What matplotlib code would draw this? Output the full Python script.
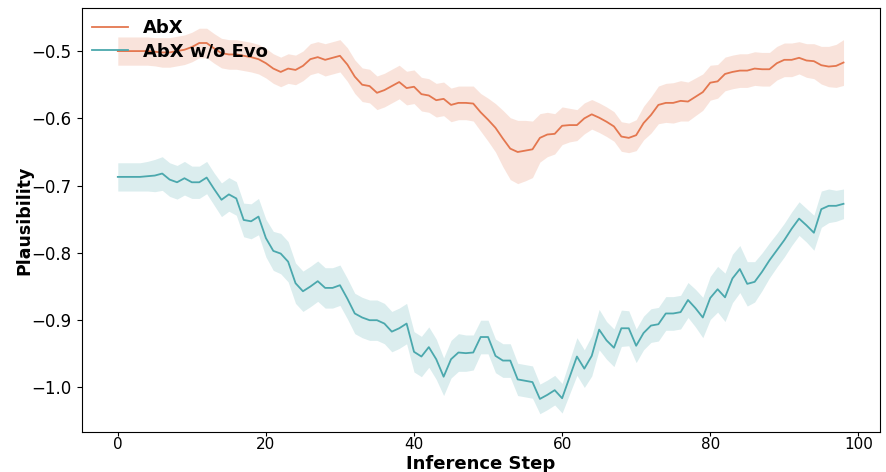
import numpy as np
import matplotlib
matplotlib.use("Agg")
import matplotlib.pyplot as plt

# Inference steps 0..98
steps = np.arange(99)

# AbX mean plausibility
abx_mean = [
    -0.500, -0.500, -0.500, -0.500, -0.500, -0.501, -0.502, -0.502, -0.500, -0.498,
    -0.494, -0.488, -0.488, -0.496, -0.503, -0.505, -0.505, -0.507, -0.509, -0.512,
    -0.518, -0.526, -0.531, -0.526, -0.528, -0.522, -0.512, -0.509, -0.513, -0.510,
    -0.507, -0.520, -0.538, -0.550, -0.552, -0.562, -0.558, -0.552, -0.546, -0.555,
    -0.553, -0.564, -0.566, -0.573, -0.571, -0.580, -0.577, -0.577, -0.578, -0.591,
    -0.602, -0.614, -0.630, -0.645, -0.650, -0.648, -0.646, -0.629, -0.624, -0.623,
    -0.611, -0.610, -0.610, -0.600, -0.594, -0.599, -0.605, -0.612, -0.627, -0.629,
    -0.625, -0.607, -0.595, -0.580, -0.577, -0.577, -0.574, -0.575, -0.568, -0.561,
    -0.547, -0.545, -0.534, -0.531, -0.529, -0.529, -0.526, -0.527, -0.527, -0.518,
    -0.513, -0.513, -0.510, -0.514, -0.515, -0.521, -0.523, -0.522, -0.517,
]
# AbX band half-width
abx_std = [
    0.021, 0.021, 0.021, 0.021, 0.021, 0.021, 0.022, 0.022, 0.022, 0.022,
    0.022, 0.022, 0.022, 0.022, 0.022, 0.022, 0.022, 0.022, 0.022, 0.022,
    0.022, 0.022, 0.022, 0.022, 0.022, 0.022, 0.023, 0.023, 0.024, 0.024,
    0.024, 0.025, 0.025, 0.025, 0.025, 0.025, 0.025, 0.025, 0.025, 0.025,
    0.025, 0.025, 0.025, 0.025, 0.025, 0.025, 0.025, 0.025, 0.026, 0.028,
    0.032, 0.036, 0.042, 0.046, 0.047, 0.045, 0.042, 0.036, 0.033, 0.030,
    0.028, 0.025, 0.023, 0.023, 0.022, 0.022, 0.022, 0.022, 0.022, 0.022,
    0.023, 0.025, 0.027, 0.028, 0.029, 0.030, 0.030, 0.029, 0.028, 0.027,
    0.026, 0.025, 0.025, 0.025, 0.025, 0.025, 0.025, 0.025, 0.025, 0.025,
    0.025, 0.025, 0.024, 0.025, 0.026, 0.028, 0.030, 0.032, 0.034,
]

# AbX w/o Evo mean plausibility
noevo_mean = [
    -0.687, -0.687, -0.687, -0.687, -0.686, -0.685, -0.682, -0.691, -0.695, -0.689,
    -0.695, -0.695, -0.688, -0.705, -0.721, -0.713, -0.719, -0.751, -0.753, -0.746,
    -0.778, -0.797, -0.801, -0.813, -0.845, -0.857, -0.850, -0.842, -0.852, -0.852,
    -0.848, -0.868, -0.890, -0.896, -0.900, -0.900, -0.905, -0.917, -0.912, -0.905,
    -0.947, -0.954, -0.940, -0.958, -0.984, -0.958, -0.948, -0.949, -0.948, -0.925,
    -0.925, -0.953, -0.960, -0.960, -0.988, -0.990, -0.992, -1.017, -1.011, -1.004,
    -1.016, -0.985, -0.954, -0.972, -0.953, -0.914, -0.930, -0.941, -0.912, -0.912,
    -0.938, -0.919, -0.908, -0.906, -0.890, -0.890, -0.888, -0.870, -0.882, -0.896,
    -0.867, -0.854, -0.866, -0.838, -0.824, -0.846, -0.843, -0.828, -0.811, -0.796,
    -0.781, -0.764, -0.749, -0.759, -0.770, -0.735, -0.730, -0.730, -0.727,
]
# AbX w/o Evo band half-width
noevo_std = [
    0.021, 0.021, 0.021, 0.021, 0.022, 0.024, 0.025, 0.025, 0.025, 0.025,
    0.024, 0.024, 0.024, 0.024, 0.025, 0.025, 0.025, 0.025, 0.026, 0.027,
    0.028, 0.029, 0.030, 0.030, 0.030, 0.030, 0.030, 0.030, 0.030, 0.030,
    0.030, 0.030, 0.030, 0.030, 0.030, 0.030, 0.030, 0.030, 0.030, 0.030,
    0.030, 0.030, 0.030, 0.030, 0.028, 0.028, 0.028, 0.027, 0.026, 0.025,
    0.025, 0.025, 0.025, 0.025, 0.024, 0.024, 0.024, 0.022, 0.022, 0.022,
    0.022, 0.025, 0.028, 0.028, 0.030, 0.030, 0.028, 0.028, 0.027, 0.026,
    0.025, 0.025, 0.025, 0.025, 0.025, 0.025, 0.025, 0.026, 0.028, 0.030,
    0.032, 0.034, 0.036, 0.036, 0.035, 0.033, 0.030, 0.028, 0.026, 0.025,
    0.025, 0.025, 0.025, 0.025, 0.026, 0.027, 0.025, 0.023, 0.022,
]

orange = "#E4774F"
teal = "#4BA8AD"

fig, ax = plt.subplots(figsize=(8.86, 4.72), dpi=100)
fig.subplots_adjust(left=0.092, right=0.993, top=0.983, bottom=0.085)

for mean, std, color, label in [
    (abx_mean, abx_std, orange, "AbX"),
    (noevo_mean, noevo_std, teal, "AbX w/o Evo"),
]:
    mean = np.array(mean)
    std = np.array(std)
    ax.plot(steps, mean, color=color, linewidth=1.3, label=label)
    ax.fill_between(steps, mean - std, mean + std, color=color, alpha=0.2, linewidth=0)

ax.set_xlabel("Inference Step", fontsize=13, fontweight="bold")
ax.set_ylabel("Plausibility", fontsize=12.5, fontweight="bold", labelpad=-1)
ax.xaxis.set_label_coords(0.5, -0.054)
ax.set_xticks([0, 20, 40, 60, 80, 100])
ax.set_yticks([-0.5, -0.6, -0.7, -0.8, -0.9, -1.0])
ax.tick_params(axis="y", labelsize=12)
ax.tick_params(axis="x", labelsize=11, length=3, pad=1)
ax.set_ylim(-1.066, -0.436)

leg = ax.legend(loc="upper left", frameon=False, prop={"weight": "bold", "size": 13},
                borderaxespad=0.2, handlelength=2.0, labelspacing=0.3)

fig.savefig("out.png")
